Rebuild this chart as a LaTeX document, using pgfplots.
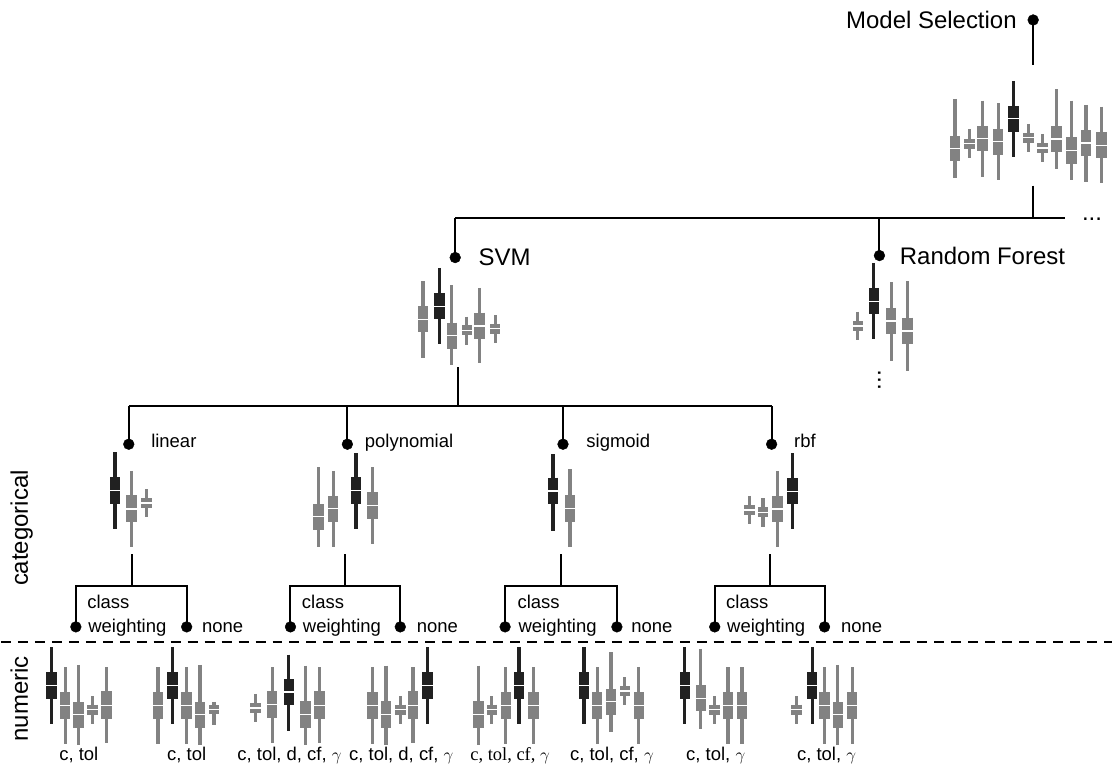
\documentclass[border=0pt]{standalone}
\usepackage{fontspec}
\setmainfont{Liberation Sans}
\newfontfamily\seriffont{Liberation Serif}
\usepackage{pgfplots}
\usepackage{pgfplotstable}
\pgfplotsset{compat=1.18}
\definecolor{dk}{RGB}{33,33,33}
\definecolor{gr}{RGB}{130,130,130}
\newcommand{\Lg}{\fontsize{24}{28}\selectfont}
\newcommand{\Sm}{\fontsize{18.5}{22}\selectfont}

% x = draw position, lw/lq/med/uq/uw = whisker and quartile ends (pixel units, y downward)
\pgfplotstableread{
x lw lq med uq uw
1014.3 81 106 119 132.7 157.7
439.3 268.3 293.3 307.3 319.3 345
874.3 263.3 288.3 301.7 315 340
114.3 453.3 478.3 491.7 505 530
355.7 454 478.3 491.7 505 530
553 455 478.5 492 505 532
792.7 454 479.3 492.3 505 530
50.7 648.3 673.3 686.7 700 725
171.7 648.3 673.3 686.7 700 725
288.3 655.7 680.7 693.3 706.7 732.7
427.3 648.3 673.3 686.7 700 725
519 648.3 673.3 686.7 700 725
584 648.3 673.3 686.7 700 725
685 648.3 673.3 686.7 700 725
812.7 648.3 673.3 686.7 700 725
}\darkboxes

\pgfplotstableread{
x lw lq med uq uw
955.7 99 136 149 161.7 178.3
970 129.3 139.3 144 149 158.3
983.3 100.7 126 138.7 151.7 177.3
999 103.3 129 142 155.7 180.7
1029.3 124 133.3 138 143.3 152.3
1043.3 134 143.3 148.3 153.3 162.3
1057.3 89.3 126.7 139.3 152.7 169.3
1072.3 100.7 137.7 151 164 180.7
1087 105 130.7 143.3 156.7 182.7
1102.3 106.7 132 146 158.3 183.3
422.7 281.7 306.7 320 332.7 358.3
451.7 286 323.3 336 349.3 366
466.7 317.3 326 331 336 345.7
479.3 288.3 313.3 326.7 339.3 364
495 316 324.3 329.3 334.3 344
858.3 312.3 321.7 326.7 331.7 340.7
891.7 282.7 308.3 321.7 335 362
908.3 281.7 318.3 331.7 345 372
130.7 471.7 496 510 522.7 548.3
146 490 499.3 504 509.3 518.3
318.3 468.3 505 517.7 531 548.3
332.7 471.7 496.7 509.3 522.7 548.3
372.3 468.3 493.3 506.7 520 545
570 470 496 509.5 522.7 548
750 496.7 506 511 516 525
763.3 499.3 508.3 513.3 518.3 528.3
777.7 471.7 496.7 510 522.7 548.3
64.3 668.3 693.3 706.7 720 745
77.7 666 703.3 716 729.3 746.7
91.7 697.3 706 710.7 716 725.7
105.7 668.3 692.7 706.7 720 744.3
157.3 668.3 693.3 706.7 720 745
186 668.3 693.3 706.7 720 745
199.3 666 703.3 716 729.3 746.7
213.3 703 706.7 711 715.7 726
255 695 704.3 709.3 714.3 723.3
271.7 668.3 692.7 706 719 744
305 666.7 702.7 716 729.3 746
319 668.3 692.7 706.7 720 744
372.3 668 693.3 706.7 720 745
385.7 666.7 702.7 716 729.3 746
400 697.3 706 710.7 716 725
412.7 668.3 692.7 706.7 720 744
478.3 666.7 702.7 716 729.3 746
491.7 697.3 706 710.7 716 725
505.7 668.3 693.3 706.7 720 745
533.3 668.3 693.3 706.7 720 745
597.3 668.3 693.3 706.7 720 745
611 653.3 690 702.7 716 733.3
625 678.3 687.7 692.3 697.7 706.7
639 668 693.3 706.7 720 745
701 650 686.7 700 712.7 730
715 697.3 706 710.7 716 725.7
728.3 668.3 693.3 706.7 720 745
742.3 668.3 693.3 706.7 720 745
796.7 697.3 706 711 716 725.7
825 668.3 693.3 706.7 720 745
838.3 666 703.3 716 729.3 746.7
852.7 668.3 693.3 706.7 720 745
}\grayboxes

\newcommand{\drawboxes}[2]{%
  \addplot[draw=none, mark=none, forget plot,
    error bars/.cd, y dir=plus, y explicit, error mark=none,
    error bar style={line width=3.2pt, draw=#2, solid}]
    table[x=x, y=lw, y error plus expr=\thisrow{uw}-\thisrow{lw}] {#1};
  \addplot[draw=none, mark=none, forget plot,
    error bars/.cd, y dir=plus, y explicit, error mark=none,
    error bar style={line width=10.5pt, draw=#2, solid}]
    table[x=x, y=lq, y error plus expr=\thisrow{uq}-\thisrow{lq}] {#1};
  \addplot[only marks, mark=-, mark size=5.25pt, white, line width=1.3pt, forget plot]
    table[x=x, y=med] {#1};
}

\begin{document}
\begin{tikzpicture}
\begin{axis}[
  width=1113pt, height=769pt, scale only axis,
  xmin=0, xmax=1113, ymin=0, ymax=769, y dir=reverse,
  enlargelimits=false, clip=false,
  axis line style={draw=none}, xtick=\empty, ytick=\empty,
]
% tree lines
\pgfplotsset{tree/.style={black, line width=2pt, no marks, forget plot}}
\addplot[tree] coordinates {(1034,20) (1034,65)};
\addplot[tree] coordinates {(1034,186) (1034,218)};
\addplot[tree] coordinates {(455,218) (1066,218)};
\addplot[tree] coordinates {(455,218) (455,258)};
\addplot[tree] coordinates {(880,218) (880,256)};
\addplot[tree] coordinates {(458,368) (458,407)};
\addplot[tree] coordinates {(128,407) (772,407)};
\addplot[tree] coordinates {(128,407) (128,445)};
\addplot[tree] coordinates {(347,407) (347,445)};
\addplot[tree] coordinates {(563,407) (563,445)};
\addplot[tree] coordinates {(772,407) (772,445)};
\addplot[tree] coordinates {(131,555) (131,587)};
\addplot[tree] coordinates {(75,628) (75,587) (186,587) (186,628)};
\addplot[tree] coordinates {(345,555) (345,587)};
\addplot[tree] coordinates {(290,628) (290,587) (400,587) (400,628)};
\addplot[tree] coordinates {(561,555) (561,587)};
\addplot[tree] coordinates {(505,628) (505,587) (617,587) (617,628)};
\addplot[tree] coordinates {(770,555) (770,587)};
\addplot[tree] coordinates {(715,628) (715,587) (825,587) (825,628)};
% separator
\addplot[black, line width=2pt, no marks, dash pattern=on 10pt off 7pt, forget plot]
  coordinates {(0,643) (1113,643)};
% node dots
\addplot[only marks, mark=*, mark size=5.4pt, black, forget plot] coordinates {
 (1034,20) (455,258) (880,256)
 (128,445) (347,445) (563,445) (772,445)
 (75,628) (186,628) (290,628) (400,628) (505,628) (617,628) (715,628) (825,628)};
% boxes
\drawboxes{\grayboxes}{gr}
\drawboxes{\darkboxes}{dk}
% labels
\node[anchor=base east, font=\Lg] at (axis cs:1021,29) {Model Selection};
\node[anchor=base west, font=\Lg] at (axis cs:475,266) {SVM};
\node[anchor=base west, font=\Lg] at (axis cs:897,265) {Random Forest};
\node[anchor=base, font=\Lg] at (axis cs:1093,221) {...};
\node[anchor=center, rotate=90, font=\Lg] at (axis cs:880,381) {...};
\node[anchor=base west, font=\Sm] at (axis cs:147,448) {linear};
\node[anchor=base west, font=\Sm] at (axis cs:361,448) {polynomial};
\node[anchor=base west, font=\Sm] at (axis cs:583,448) {sigmoid};
\node[anchor=base west, font=\Sm] at (axis cs:791,448) {rbf};
\node[anchor=base west, font=\Sm] at (axis cs:83,610) {class};
\node[anchor=base west, font=\Sm] at (axis cs:84,634) {weighting};
\node[anchor=base west, font=\Sm] at (axis cs:198,634) {none};
\node[anchor=base west, font=\Sm] at (axis cs:298,610) {class};
\node[anchor=base west, font=\Sm] at (axis cs:299,634) {weighting};
\node[anchor=base west, font=\Sm] at (axis cs:413,634) {none};
\node[anchor=base west, font=\Sm] at (axis cs:514,610) {class};
\node[anchor=base west, font=\Sm] at (axis cs:515,634) {weighting};
\node[anchor=base west, font=\Sm] at (axis cs:628,634) {none};
\node[anchor=base west, font=\Sm] at (axis cs:723,610) {class};
\node[anchor=base west, font=\Sm] at (axis cs:724,634) {weighting};
\node[anchor=base west, font=\Sm] at (axis cs:838,634) {none};
\node[anchor=base, rotate=90, font=\Lg] at (axis cs:27,529) {categorical};
\node[anchor=base, rotate=90, font=\Lg] at (axis cs:27,700) {numeric};
\node[anchor=base, font=\Sm] at (axis cs:78,762) {c, tol};
\node[anchor=base, font=\Sm] at (axis cs:186,762) {c, tol};
\node[anchor=base, font=\Sm] at (axis cs:289,762) {c, tol, d, cf, $\gamma$};
\node[anchor=base, font=\Sm] at (axis cs:401,762) {c, tol, d, cf, $\gamma$};
\node[anchor=base, font=\Sm\seriffont] at (axis cs:510,762) {c, tol, cf, $\gamma$};
\node[anchor=base, font=\Sm] at (axis cs:612,762) {c, tol, cf, $\gamma$};
\node[anchor=base, font=\Sm] at (axis cs:716,762) {c, tol, $\gamma$};
\node[anchor=base, font=\Sm] at (axis cs:827,762) {c, tol, $\gamma$};
\end{axis}
\end{tikzpicture}
\end{document}
